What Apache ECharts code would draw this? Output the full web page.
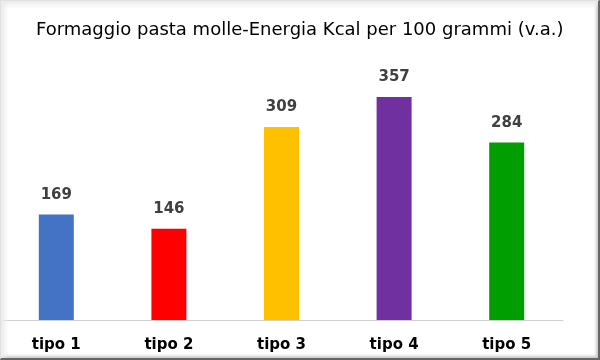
<!DOCTYPE html>
<html><head><meta charset="utf-8">
<script src="https://cdn.jsdelivr.net/npm/echarts@6/dist/echarts.min.js"></script>
<style>
html,body{margin:0;padding:0;background:#fff;}
#wrap{position:absolute;left:0;top:0;width:600px;height:360px;box-sizing:border-box;
border-top:1px solid #e0e0e0;border-left:1px solid #e0e0e0;border-right:2px solid #666;border-bottom:2px solid #666;
box-shadow: inset 4px 4px 5px #ececec, inset -2px -2px 3px #c8c8c8;}
#c{position:absolute;left:0;top:0;width:600px;height:360px;}
</style></head><body>
<div id="c"></div><div id="wrap"></div>
<script>
const titleText = "Formaggio pasta molle-Energia Kcal per 100 grammi (v.a.)";
const categories = ["tipo 1","tipo 2","tipo 3","tipo 4","tipo 5"];
const values = [169,146,309,357,284];
const colors = ["#4472C4","#FF0000","#FFC000","#7030A0","#009E00"];
const chart = echarts.init(document.getElementById('c'));
chart.setOption({
  animation:false,
  title:{text:titleText,left:31,top:16,textStyle:{fontFamily:'DejaVu Sans',fontSize:18,fontWeight:'normal',color:'#000'}},
  grid:{left:0,right:37,top:70,bottom:40},
  xAxis:{type:'category',data:categories,axisTick:{show:false},
    axisLine:{lineStyle:{color:'#d0d0d0',width:1}},
    axisLabel:{fontFamily:'DejaVu Sans',fontSize:15,fontWeight:'bold',color:'#000',margin:18}},
  yAxis:{type:'value',min:0,max:400,show:false,splitLine:{show:false}},
  series:[{type:'bar',barWidth:35,
    data:values.map((v,i)=>({value:v,itemStyle:{color:colors[i]}})),
    label:{show:true,position:'top',distance:12,fontFamily:'DejaVu Sans',fontSize:15,fontWeight:'bold',color:'#404040'}}]
});
</script></body></html>
